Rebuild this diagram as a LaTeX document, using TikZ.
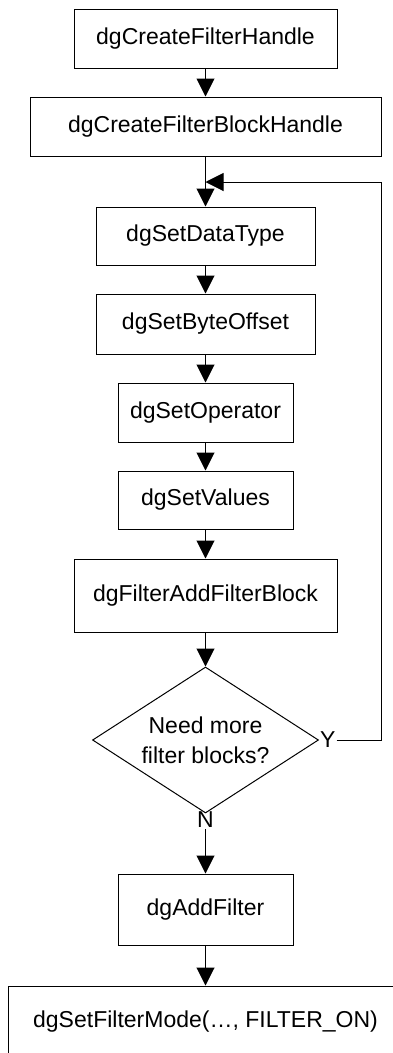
\documentclass[tikz,border=0pt]{standalone}
\usepackage{fontspec}
\setmainfont{Liberation Sans}
\usetikzlibrary{arrows.meta,shapes.geometric}
\begin{document}
\begin{tikzpicture}[x=1pt,y=-1pt,
  every node/.style={font=\fontsize{23}{30}\selectfont},
  box/.style={draw,line width=1pt,rectangle,inner sep=0pt,text height=16pt,text depth=4.5pt},
  decide/.style={draw,line width=1pt,diamond,aspect=1.548,inner sep=0pt,minimum width=226pt,minimum height=146pt,align=center},
  lbl/.style={inner sep=1pt},
  flow/.style={line width=1pt,-{Triangle[length=18pt,width=18pt]}},
  link/.style={line width=1pt}]
\useasboundingbox (0,0) rectangle (393,1053);
\fill[white] (0,0) rectangle (393,1053);
\node[box,minimum width=263pt,minimum height=59pt] (b1) at (205.5,38.5) {dgCreateFilterHandle};
\node[box,minimum width=351pt,minimum height=59pt] (b2) at (205.5,126.5) {dgCreateFilterBlockHandle};
\node[box,minimum width=219pt,minimum height=58pt] (b3) at (205.5,236) {dgSetDataType};
\node[box,minimum width=219pt,minimum height=60pt] (b4) at (205.5,324) {dgSetByteOffset};
\node[box,minimum width=175pt,minimum height=59pt] (b5) at (205.5,412.5) {dgSetOperator};
\node[box,minimum width=175pt,minimum height=58pt] (b6) at (205.5,500) {dgSetValues};
\node[box,minimum width=263pt,minimum height=73pt] (b7) at (205.5,595.5) {dgFilterAddFilterBlock};
\node[decide] (d) at (205.5,740) {Need more\\filter blocks?};
\node[lbl,anchor=west] (y) at (d.east) {Y};
\node[lbl] (n) at (205.5,820) {N};
\node[box,minimum width=175pt,minimum height=71pt] (b8) at (205.5,909.5) {dgAddFilter};
\node[box,minimum width=395pt,minimum height=72pt] (b9) at (205.5,1022) {dgSetFilterMode(…, FILTER\_ON)};
\coordinate (j) at (205.5,182);
\coordinate (r) at (381,740);
\draw[flow] (b1) -- (b2);
\draw[flow] (b2) -- (b3);
\draw[flow] (b3) -- (b4);
\draw[flow] (b4) -- (b5);
\draw[flow] (b5) -- (b6);
\draw[flow] (b6) -- (b7);
\draw[flow] (b7) -- (d);
\draw[flow] (n) -- (b8);
\draw[flow] (b8) -- (b9);
\draw[flow] (y.east) -- (r) |- (j);
\end{tikzpicture}
\end{document}
